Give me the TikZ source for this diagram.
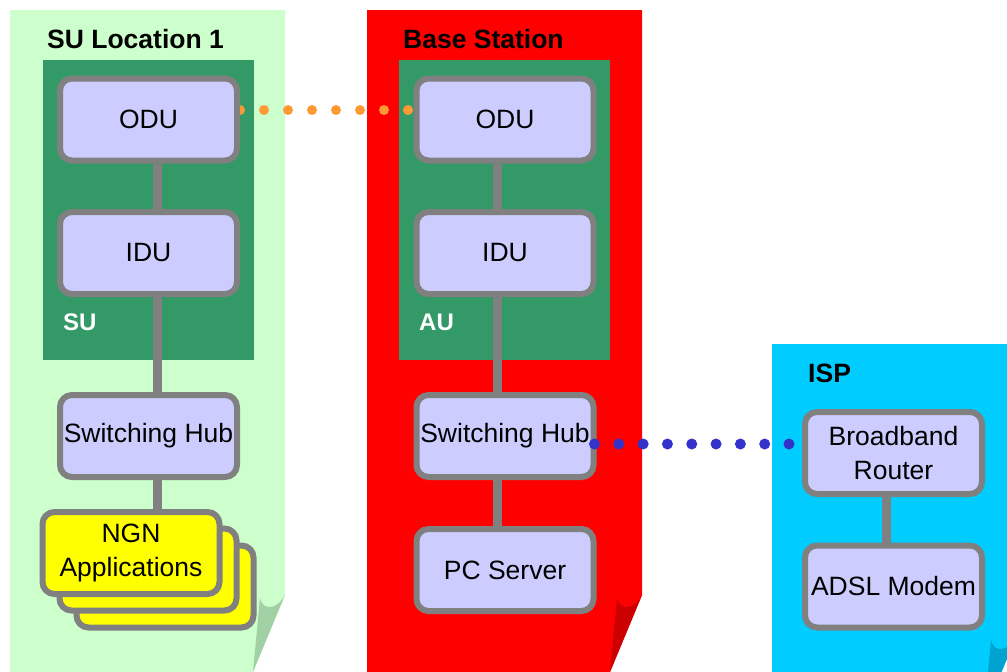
\documentclass[tikz,border=0pt]{standalone}
\usepackage{fontspec}
\setmainfont{Liberation Sans}
\definecolor{pgreen}{HTML}{CCFFCC}
\definecolor{pgreenfold}{HTML}{A0D0A4}
\definecolor{pred}{HTML}{FF0000}
\definecolor{predfold}{HTML}{CC0000}
\definecolor{pcyan}{HTML}{00CCFF}
\definecolor{pcyanfold}{HTML}{00A3CF}
\definecolor{dkgreen}{HTML}{339966}
\definecolor{boxfill}{HTML}{CCCCFF}
\definecolor{boxgray}{HTML}{808080}
\definecolor{appyellow}{HTML}{FFFF00}
\definecolor{dotorange}{HTML}{FF9933}
\definecolor{dotblue}{HTML}{3333CC}
\pgfdeclarelayer{panels}
\pgfdeclarelayer{links}
\pgfsetlayers{panels,links,main}
\begin{document}
\begin{tikzpicture}[x=1pt,y=-1pt,
  box/.style={draw=boxgray, line width=6pt, fill=boxfill, rounded corners=12pt,
    minimum width=177pt, minimum height=82pt, inner sep=0pt, align=center,
    font=\fontsize{26.5}{34}\selectfont},
  appbox/.style={box, fill=appyellow},
  link/.style={draw=boxgray, line width=9pt},
  title/.style={anchor=base west, inner sep=0pt, font=\fontsize{26.5}{30}\selectfont\bfseries},
  unitlabel/.style={anchor=base west, inner sep=0pt, text=white, font=\fontsize{24}{28}\selectfont\bfseries},
  odots/.style={draw=dotorange, line width=10pt, line cap=round, dash pattern=on 0pt off 24pt},
  bdots/.style={draw=dotblue, line width=11pt, line cap=round, dash pattern=on 0pt off 24.3125pt}]
\useasboundingbox (0,0) rectangle (1007,672);

% ---------- panels ----------
\begin{pgfonlayer}{panels}
\clip (0,0) rectangle (1007,672);
% SU Location 1
\fill[pgreen] (10,10) -- (285,10) -- (285,595) -- (253,672) -- (10,672) -- cycle;
\fill[pgreenfold] (260,598) .. controls (262,606) and (266,607) .. (270,607)
  .. controls (276,607) and (282,601) .. (285,595) -- (253,672) -- cycle;
% Base Station
\begin{scope}[shift={(357,0)}]
\fill[pred] (10,10) -- (285,10) -- (285,595) -- (253,672) -- (10,672) -- cycle;
\fill[predfold] (260,598) .. controls (262,606) and (266,607) .. (270,607)
  .. controls (276,607) and (282,601) .. (285,595) -- (253,672) -- cycle;
\end{scope}
% ISP
\fill[pcyan] (772,344) -- (1016,344) -- (1016,637) -- (984,714) -- (772,714) -- cycle;
\begin{scope}[shift={(731,42)}]
\fill[pcyanfold] (260,598) .. controls (262,606) and (266,607) .. (270,607)
  .. controls (276,607) and (282,601) .. (285,595) -- (253,672) -- cycle;
\end{scope}
% unit boxes
\fill[dkgreen] (43,60) rectangle (254,360);
\fill[dkgreen] (399,60) rectangle (610,360);
\end{pgfonlayer}

% ---------- titles ----------
\node[title] (t1) at (47,48) {SU Location 1};
\node[title] (t2) at (403,48) {Base Station};
\node[title] (t3) at (808,382) {ISP};
\node[unitlabel] (su) at (63,330) {SU};
\node[unitlabel] (au) at (419,330) {AU};

% ---------- nodes ----------
\node[box] (odu1) at (148.5,119.5) {ODU};
\node[box] (idu1) at (148.5,253) {IDU};
\node[box] (sh1) at (148.5,436) {Switching Hub};
\node[appbox] (ngnc) at (165,586.5) {};
\node[appbox] (ngnb) at (148,569.5) {};
\node[appbox] (ngn) at (131,553) {NGN\\Applications};

\node[box] (odu2) at (505,119.5) {ODU};
\node[box] (idu2) at (505,253) {IDU};
\node[box] (sh2) at (505,436) {Switching Hub};
\node[box] (pc) at (505,570) {PC Server};

\node[box] (router) at (893.5,453) {Broadband\\Router};
\node[box] (adsl) at (893.5,586.5) {ADSL Modem};

% ---------- connectors ----------
\begin{pgfonlayer}{links}
\draw[link] ([xshift=8.5pt]odu1.south) -- ([xshift=8.5pt]idu1.north);
\draw[link] ([xshift=8.5pt]idu1.south) -- ([xshift=8.5pt]sh1.north);
\draw[link] ([xshift=8.5pt]sh1.south) -- ([xshift=8.5pt]sh1.south |- ngn.north);
\draw[link] ([xshift=-8pt]odu2.south) -- ([xshift=-8pt]idu2.north);
\draw[link] ([xshift=-8pt]idu2.south) -- ([xshift=-8pt]sh2.north);
\draw[link] ([xshift=-8pt]sh2.south) -- ([xshift=-8pt]pc.north);
\draw[link] ([xshift=-7.5pt]router.south) -- ([xshift=-7.5pt]adsl.north);
\draw[odots] ([yshift=9.5pt]odu1.east) -- ([xshift=-5pt,yshift=9.5pt]odu2.west);
\end{pgfonlayer}
\draw[bdots] ([xshift=-2pt,yshift=-8pt]sh2.east) -- ([xshift=-13pt,yshift=9pt]router.west);
\end{tikzpicture}
\end{document}
